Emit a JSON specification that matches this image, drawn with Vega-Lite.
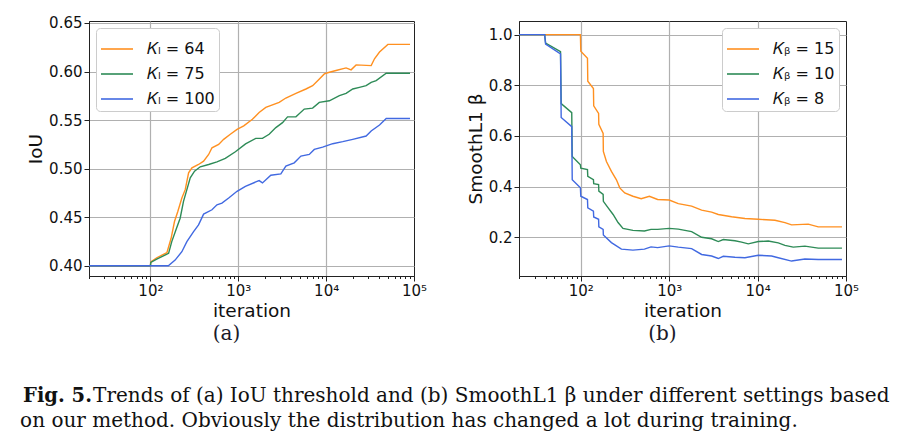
{
  "$schema": "https://vega.github.io/schema/vega-lite/v6.json",
  "padding": {"left": 20, "top": 15, "right": 5, "bottom": 5},
  "title": {
    "text": "on our method. Obviously the distribution has changed a lot during training.",
    "orient": "bottom", "anchor": "start", "frame": "bounds",
    "font": "DejaVu Serif", "fontSize": 20, "fontWeight": "normal", "color": "#111111",
    "offset": 5, "dx": -3
  },
  "vconcat": [
    {
      "title": {
        "text": "Trends of (a) IoU threshold and (b) SmoothL1 β under different settings based",
        "orient": "bottom", "anchor": "start", "frame": "bounds",
        "font": "DejaVu Serif", "fontSize": 20, "fontWeight": "normal", "color": "#111111",
        "offset": -20, "dx": 70
      },
      "vconcat": [
        {
          "title": {
            "text": "Fig. 5.",
            "orient": "bottom", "anchor": "start", "frame": "bounds",
            "font": "DejaVu Serif", "fontSize": 19.5, "fontWeight": "bold", "color": "#111111",
            "offset": 43, "dx": -3
          },
          "resolve": {"scale": {"color": "independent"}},
          "spacing": 37,
          "hconcat": [
            {
              "width": 325,
              "height": 255,
              "data": {"name": "a"},
              "title": {"text": "(a)", "orient": "bottom", "anchor": "middle", "frame": "bounds", "font": "DejaVu Serif", "fontSize": 20, "fontWeight": "normal", "color": "#1a1a2a", "offset": 4},
              "mark": {"type": "line", "strokeWidth": 1.4, "clip": true},
              "encoding": {
                "x": {
                  "field": "it", "type": "quantitative",
                  "scale": {"type": "log", "domain": [20, 100000], "nice": false},
                  "axis": {
                    "title": "iteration",
                    "values": [20, 30, 40, 50, 60, 70, 80, 90, 100, 200, 300, 400, 500, 600, 700, 800, 900, 1000, 2000, 3000, 4000, 5000, 6000, 7000, 8000, 9000, 10000, 20000, 30000, 40000, 50000, 60000, 70000, 80000, 90000, 100000],
                    "labelExpr": "datum.value == 100 ? '10²' : datum.value == 1000 ? '10³' : datum.value == 10000 ? '10⁴' : datum.value == 100000 ? '10⁵' : ''",
                    "labelOverlap": false,
                    "labelFlush": false,
                    "tickSize": {"condition": {"test": "indexof([100, 1000, 10000, 100000], datum.value) >= 0", "value": 5}, "value": 2.5},
                    "gridOpacity": {"condition": {"test": "indexof([100, 1000, 10000], datum.value) >= 0", "value": 1}, "value": 0}
                  }
                },
                "y": {
                  "field": "v", "type": "quantitative",
                  "scale": {"domain": [0.3895, 0.652], "nice": false, "zero": false},
                  "axis": {"title": "IoU", "values": [0.4, 0.45, 0.5, 0.55, 0.6, 0.65], "format": ".2f"}
                },
                "color": {
                  "field": "s", "type": "nominal",
                  "scale": {"domain": ["𝐾ₗ = 64", "𝐾ₗ = 75", "𝐾ₗ = 100"], "range": ["#ff9020", "#2e8b57", "#4169e1"]},
                  "legend": {"orient": "top-left", "offset": 7, "title": null, "rowPadding": -10}
                }
              }
            },
            {
              "width": 327,
              "height": 255,
              "data": {"name": "b"},
              "title": {"text": "(b)", "orient": "bottom", "anchor": "middle", "frame": "bounds", "font": "DejaVu Serif", "fontSize": 20, "fontWeight": "normal", "color": "#1a1a2a", "offset": 4},
              "mark": {"type": "line", "strokeWidth": 1.4, "clip": true},
              "encoding": {
                "x": {
                  "field": "it", "type": "quantitative",
                  "scale": {"type": "log", "domain": [20, 100000], "nice": false},
                  "axis": {
                    "title": "iteration",
                    "values": [20, 30, 40, 50, 60, 70, 80, 90, 100, 200, 300, 400, 500, 600, 700, 800, 900, 1000, 2000, 3000, 4000, 5000, 6000, 7000, 8000, 9000, 10000, 20000, 30000, 40000, 50000, 60000, 70000, 80000, 90000, 100000],
                    "labelExpr": "datum.value == 100 ? '10²' : datum.value == 1000 ? '10³' : datum.value == 10000 ? '10⁴' : datum.value == 100000 ? '10⁵' : ''",
                    "labelOverlap": false,
                    "labelFlush": false,
                    "tickSize": {"condition": {"test": "indexof([100, 1000, 10000, 100000], datum.value) >= 0", "value": 5}, "value": 2.5},
                    "gridOpacity": {"condition": {"test": "indexof([100, 1000, 10000], datum.value) >= 0", "value": 1}, "value": 0}
                  }
                },
                "y": {
                  "field": "v", "type": "quantitative",
                  "scale": {"domain": [0.047, 1.054], "nice": false, "zero": false},
                  "axis": {"title": "SmoothL1 β", "values": [0.2, 0.4, 0.6, 0.8, 1.0], "format": ".1f"}
                },
                "color": {
                  "field": "s", "type": "nominal",
                  "scale": {"domain": ["𝐾ᵦ = 15", "𝐾ᵦ = 10", "𝐾ᵦ = 8"], "range": ["#ff9020", "#2e8b57", "#4169e1"]},
                  "legend": {"orient": "top-right", "offset": 7, "title": null, "rowPadding": -6}
                }
              }
            }
          ]
        }
      ]
    }
  ],
  "datasets": {
    "a": [
      {"s": "𝐾ₗ = 64", "it": 20, "v": 0.400}, {"s": "𝐾ₗ = 64", "it": 100, "v": 0.400}, {"s": "𝐾ₗ = 64", "it": 101, "v": 0.4041},
      {"s": "𝐾ₗ = 64", "it": 118, "v": 0.4083}, {"s": "𝐾ₗ = 64", "it": 154, "v": 0.4135}, {"s": "𝐾ₗ = 64", "it": 172, "v": 0.4283},
      {"s": "𝐾ₗ = 64", "it": 188, "v": 0.4456}, {"s": "𝐾ₗ = 64", "it": 205, "v": 0.4559}, {"s": "𝐾ₗ = 64", "it": 228, "v": 0.4698},
      {"s": "𝐾ₗ = 64", "it": 249, "v": 0.4784}, {"s": "𝐾ₗ = 64", "it": 272, "v": 0.4957}, {"s": "𝐾ₗ = 64", "it": 297, "v": 0.5008},
      {"s": "𝐾ₗ = 64", "it": 353, "v": 0.5043}, {"s": "𝐾ₗ = 64", "it": 403, "v": 0.5077}, {"s": "𝐾ₗ = 64", "it": 460, "v": 0.5146},
      {"s": "𝐾ₗ = 64", "it": 502, "v": 0.5215}, {"s": "𝐾ₗ = 64", "it": 598, "v": 0.5250}, {"s": "𝐾ₗ = 64", "it": 682, "v": 0.5302},
      {"s": "𝐾ₗ = 64", "it": 812, "v": 0.5354}, {"s": "𝐾ₗ = 64", "it": 968, "v": 0.5405}, {"s": "𝐾ₗ = 64", "it": 1154, "v": 0.5440},
      {"s": "𝐾ₗ = 64", "it": 1449, "v": 0.5509}, {"s": "𝐾ₗ = 64", "it": 1727, "v": 0.5578}, {"s": "𝐾ₗ = 64", "it": 2057, "v": 0.5630},
      {"s": "𝐾ₗ = 64", "it": 2921, "v": 0.5682}, {"s": "𝐾ₗ = 64", "it": 3481, "v": 0.5727}, {"s": "𝐾ₗ = 64", "it": 4530, "v": 0.5775},
      {"s": "𝐾ₗ = 64", "it": 5890, "v": 0.5820}, {"s": "𝐾ₗ = 64", "it": 7019, "v": 0.5854}, {"s": "𝐾ₗ = 64", "it": 8006, "v": 0.5906},
      {"s": "𝐾ₗ = 64", "it": 9536, "v": 0.5975}, {"s": "𝐾ₗ = 64", "it": 10877, "v": 0.5992}, {"s": "𝐾ₗ = 64", "it": 12963, "v": 0.6010},
      {"s": "𝐾ₗ = 64", "it": 16861, "v": 0.6037}, {"s": "𝐾ₗ = 64", "it": 19231, "v": 0.6017}, {"s": "𝐾ₗ = 64", "it": 21935, "v": 0.6068},
      {"s": "𝐾ₗ = 64", "it": 32548, "v": 0.6061}, {"s": "𝐾ₗ = 64", "it": 35515, "v": 0.6131}, {"s": "𝐾ₗ = 64", "it": 40510, "v": 0.6200},
      {"s": "𝐾ₗ = 64", "it": 50430, "v": 0.6279}, {"s": "𝐾ₗ = 64", "it": 90000, "v": 0.6279},

      {"s": "𝐾ₗ = 75", "it": 20, "v": 0.400}, {"s": "𝐾ₗ = 75", "it": 100, "v": 0.400}, {"s": "𝐾ₗ = 75", "it": 101, "v": 0.4035},
      {"s": "𝐾ₗ = 75", "it": 118, "v": 0.4069}, {"s": "𝐾ₗ = 75", "it": 161, "v": 0.4128}, {"s": "𝐾ₗ = 75", "it": 175, "v": 0.4249},
      {"s": "𝐾ₗ = 75", "it": 195, "v": 0.4369}, {"s": "𝐾ₗ = 75", "it": 218, "v": 0.4490}, {"s": "𝐾ₗ = 75", "it": 238, "v": 0.4663},
      {"s": "𝐾ₗ = 75", "it": 260, "v": 0.4784}, {"s": "𝐾ₗ = 75", "it": 284, "v": 0.4905}, {"s": "𝐾ₗ = 75", "it": 318, "v": 0.4974},
      {"s": "𝐾ₗ = 75", "it": 369, "v": 0.5019}, {"s": "𝐾ₗ = 75", "it": 460, "v": 0.5043}, {"s": "𝐾ₗ = 75", "it": 572, "v": 0.5070},
      {"s": "𝐾ₗ = 75", "it": 712, "v": 0.5105}, {"s": "𝐾ₗ = 75", "it": 927, "v": 0.5174}, {"s": "𝐾ₗ = 75", "it": 1210, "v": 0.5255},
      {"s": "𝐾ₗ = 75", "it": 1582, "v": 0.5312}, {"s": "𝐾ₗ = 75", "it": 1885, "v": 0.5312}, {"s": "𝐾ₗ = 75", "it": 2246, "v": 0.5354},
      {"s": "𝐾ₗ = 75", "it": 2676, "v": 0.5423}, {"s": "𝐾ₗ = 75", "it": 3189, "v": 0.5474}, {"s": "𝐾ₗ = 75", "it": 3637, "v": 0.5533},
      {"s": "𝐾ₗ = 75", "it": 4530, "v": 0.5533}, {"s": "𝐾ₗ = 75", "it": 5637, "v": 0.5613}, {"s": "𝐾ₗ = 75", "it": 7019, "v": 0.5623},
      {"s": "𝐾ₗ = 75", "it": 8361, "v": 0.5682}, {"s": "𝐾ₗ = 75", "it": 10877, "v": 0.5699}, {"s": "𝐾ₗ = 75", "it": 14150, "v": 0.5751},
      {"s": "𝐾ₗ = 75", "it": 16861, "v": 0.5775}, {"s": "𝐾ₗ = 75", "it": 20091, "v": 0.5820}, {"s": "𝐾ₗ = 75", "it": 23933, "v": 0.5837},
      {"s": "𝐾ₗ = 75", "it": 28523, "v": 0.5854}, {"s": "𝐾ₗ = 75", "it": 32548, "v": 0.5889}, {"s": "𝐾ₗ = 75", "it": 37112, "v": 0.5906},
      {"s": "𝐾ₗ = 75", "it": 48290, "v": 0.5982}, {"s": "𝐾ₗ = 75", "it": 90000, "v": 0.5982},

      {"s": "𝐾ₗ = 100", "it": 20, "v": 0.400}, {"s": "𝐾ₗ = 100", "it": 160, "v": 0.400}, {"s": "𝐾ₗ = 100", "it": 191, "v": 0.4059},
      {"s": "𝐾ₗ = 100", "it": 228, "v": 0.4145}, {"s": "𝐾ₗ = 100", "it": 260, "v": 0.4249}, {"s": "𝐾ₗ = 100", "it": 310, "v": 0.4352},
      {"s": "𝐾ₗ = 100", "it": 353, "v": 0.4421}, {"s": "𝐾ₗ = 100", "it": 403, "v": 0.4532}, {"s": "𝐾ₗ = 100", "it": 502, "v": 0.4577},
      {"s": "𝐾ₗ = 100", "it": 572, "v": 0.4628}, {"s": "𝐾ₗ = 100", "it": 652, "v": 0.4646}, {"s": "𝐾ₗ = 100", "it": 778, "v": 0.4698},
      {"s": "𝐾ₗ = 100", "it": 968, "v": 0.4767}, {"s": "𝐾ₗ = 100", "it": 1205, "v": 0.4818}, {"s": "𝐾ₗ = 100", "it": 1582, "v": 0.4863},
      {"s": "𝐾ₗ = 100", "it": 1727, "v": 0.4877}, {"s": "𝐾ₗ = 100", "it": 1885, "v": 0.4853}, {"s": "𝐾ₗ = 100", "it": 2346, "v": 0.4932},
      {"s": "𝐾ₗ = 100", "it": 3052, "v": 0.4946}, {"s": "𝐾ₗ = 100", "it": 3481, "v": 0.5026}, {"s": "𝐾ₗ = 100", "it": 4334, "v": 0.5060},
      {"s": "𝐾ₗ = 100", "it": 5165, "v": 0.5129}, {"s": "𝐾ₗ = 100", "it": 6429, "v": 0.5146}, {"s": "𝐾ₗ = 100", "it": 7333, "v": 0.5198},
      {"s": "𝐾ₗ = 100", "it": 9130, "v": 0.5222}, {"s": "𝐾ₗ = 100", "it": 11874, "v": 0.5257}, {"s": "𝐾ₗ = 100", "it": 15448, "v": 0.5278},
      {"s": "𝐾ₗ = 100", "it": 20091, "v": 0.5302}, {"s": "𝐾ₗ = 100", "it": 28523, "v": 0.5336}, {"s": "𝐾ₗ = 100", "it": 32548, "v": 0.5388},
      {"s": "𝐾ₗ = 100", "it": 40510, "v": 0.5450}, {"s": "𝐾ₗ = 100", "it": 48290, "v": 0.5516}, {"s": "𝐾ₗ = 100", "it": 90000, "v": 0.5516}
    ],
    "b": [
      {"s": "𝐾ᵦ = 15", "it": 20, "v": 1.0}, {"s": "𝐾ᵦ = 15", "it": 99, "v": 1.0}, {"s": "𝐾ᵦ = 15", "it": 100, "v": 0.935},
      {"s": "𝐾ᵦ = 15", "it": 119, "v": 0.907}, {"s": "𝐾ᵦ = 15", "it": 120, "v": 0.816}, {"s": "𝐾ᵦ = 15", "it": 139, "v": 0.787},
      {"s": "𝐾ᵦ = 15", "it": 140, "v": 0.719}, {"s": "𝐾ᵦ = 15", "it": 159, "v": 0.689}, {"s": "𝐾ᵦ = 15", "it": 160, "v": 0.646},
      {"s": "𝐾ᵦ = 15", "it": 179, "v": 0.610}, {"s": "𝐾ᵦ = 15", "it": 180, "v": 0.539}, {"s": "𝐾ᵦ = 15", "it": 195, "v": 0.499},
      {"s": "𝐾ᵦ = 15", "it": 222, "v": 0.460}, {"s": "𝐾ᵦ = 15", "it": 253, "v": 0.427}, {"s": "𝐾ᵦ = 15", "it": 276, "v": 0.395},
      {"s": "𝐾ᵦ = 15", "it": 314, "v": 0.375}, {"s": "𝐾ᵦ = 15", "it": 389, "v": 0.362}, {"s": "𝐾ᵦ = 15", "it": 482, "v": 0.352},
      {"s": "𝐾ᵦ = 15", "it": 597, "v": 0.362}, {"s": "𝐾ᵦ = 15", "it": 740, "v": 0.349}, {"s": "𝐾ᵦ = 15", "it": 1000, "v": 0.347},
      {"s": "𝐾ᵦ = 15", "it": 1267, "v": 0.333}, {"s": "𝐾ᵦ = 15", "it": 1794, "v": 0.323}, {"s": "𝐾ᵦ = 15", "it": 2327, "v": 0.307},
      {"s": "𝐾ᵦ = 15", "it": 3019, "v": 0.299}, {"s": "𝐾ᵦ = 15", "it": 3592, "v": 0.290}, {"s": "𝐾ᵦ = 15", "it": 5082, "v": 0.281},
      {"s": "𝐾ᵦ = 15", "it": 7190, "v": 0.274}, {"s": "𝐾ᵦ = 15", "it": 10174, "v": 0.271}, {"s": "𝐾ᵦ = 15", "it": 15705, "v": 0.267},
      {"s": "𝐾ᵦ = 15", "it": 20378, "v": 0.258}, {"s": "𝐾ᵦ = 15", "it": 24237, "v": 0.249}, {"s": "𝐾ᵦ = 15", "it": 37410, "v": 0.252},
      {"s": "𝐾ᵦ = 15", "it": 48530, "v": 0.241}, {"s": "𝐾ᵦ = 15", "it": 90000, "v": 0.241},

      {"s": "𝐾ᵦ = 10", "it": 20, "v": 1.0}, {"s": "𝐾ᵦ = 10", "it": 39, "v": 1.0}, {"s": "𝐾ᵦ = 10", "it": 40, "v": 0.967},
      {"s": "𝐾ᵦ = 10", "it": 59, "v": 0.933}, {"s": "𝐾ᵦ = 10", "it": 60, "v": 0.728}, {"s": "𝐾ᵦ = 10", "it": 79, "v": 0.692},
      {"s": "𝐾ᵦ = 10", "it": 80, "v": 0.519}, {"s": "𝐾ᵦ = 10", "it": 99, "v": 0.486}, {"s": "𝐾ᵦ = 10", "it": 100, "v": 0.473},
      {"s": "𝐾ᵦ = 10", "it": 119, "v": 0.467}, {"s": "𝐾ᵦ = 10", "it": 120, "v": 0.441}, {"s": "𝐾ᵦ = 10", "it": 139, "v": 0.427},
      {"s": "𝐾ᵦ = 10", "it": 140, "v": 0.412}, {"s": "𝐾ᵦ = 10", "it": 159, "v": 0.408}, {"s": "𝐾ᵦ = 10", "it": 160, "v": 0.382},
      {"s": "𝐾ᵦ = 10", "it": 179, "v": 0.369}, {"s": "𝐾ᵦ = 10", "it": 180, "v": 0.342}, {"s": "𝐾ᵦ = 10", "it": 204, "v": 0.316},
      {"s": "𝐾ᵦ = 10", "it": 232, "v": 0.290}, {"s": "𝐾ᵦ = 10", "it": 264, "v": 0.258}, {"s": "𝐾ᵦ = 10", "it": 300, "v": 0.235},
      {"s": "𝐾ᵦ = 10", "it": 389, "v": 0.227}, {"s": "𝐾ᵦ = 10", "it": 525, "v": 0.225}, {"s": "𝐾ᵦ = 10", "it": 623, "v": 0.231},
      {"s": "𝐾ᵦ = 10", "it": 740, "v": 0.231}, {"s": "𝐾ᵦ = 10", "it": 1000, "v": 0.235}, {"s": "𝐾ᵦ = 10", "it": 1267, "v": 0.232},
      {"s": "𝐾ᵦ = 10", "it": 1794, "v": 0.222}, {"s": "𝐾ᵦ = 10", "it": 2327, "v": 0.200}, {"s": "𝐾ᵦ = 10", "it": 3019, "v": 0.194},
      {"s": "𝐾ᵦ = 10", "it": 3592, "v": 0.183}, {"s": "𝐾ᵦ = 10", "it": 4091, "v": 0.191}, {"s": "𝐾ᵦ = 10", "it": 5541, "v": 0.186},
      {"s": "𝐾ᵦ = 10", "it": 6593, "v": 0.181}, {"s": "𝐾ᵦ = 10", "it": 7845, "v": 0.174}, {"s": "𝐾ᵦ = 10", "it": 10174, "v": 0.183},
      {"s": "𝐾ᵦ = 10", "it": 13201, "v": 0.185}, {"s": "𝐾ᵦ = 10", "it": 17126, "v": 0.178}, {"s": "𝐾ᵦ = 10", "it": 20378, "v": 0.168},
      {"s": "𝐾ᵦ = 10", "it": 25314, "v": 0.161}, {"s": "𝐾ᵦ = 10", "it": 34290, "v": 0.165}, {"s": "𝐾ᵦ = 10", "it": 48530, "v": 0.157},
      {"s": "𝐾ᵦ = 10", "it": 90000, "v": 0.157},

      {"s": "𝐾ᵦ = 8", "it": 20, "v": 1.0}, {"s": "𝐾ᵦ = 8", "it": 39, "v": 1.0}, {"s": "𝐾ᵦ = 8", "it": 40, "v": 0.963},
      {"s": "𝐾ᵦ = 8", "it": 59, "v": 0.924}, {"s": "𝐾ᵦ = 8", "it": 60, "v": 0.673}, {"s": "𝐾ᵦ = 8", "it": 79, "v": 0.637},
      {"s": "𝐾ᵦ = 8", "it": 80, "v": 0.427}, {"s": "𝐾ᵦ = 8", "it": 99, "v": 0.395}, {"s": "𝐾ᵦ = 8", "it": 100, "v": 0.362},
      {"s": "𝐾ᵦ = 8", "it": 119, "v": 0.349}, {"s": "𝐾ᵦ = 8", "it": 120, "v": 0.316}, {"s": "𝐾ᵦ = 8", "it": 139, "v": 0.303},
      {"s": "𝐾ᵦ = 8", "it": 140, "v": 0.280}, {"s": "𝐾ᵦ = 8", "it": 159, "v": 0.271}, {"s": "𝐾ᵦ = 8", "it": 160, "v": 0.241},
      {"s": "𝐾ᵦ = 8", "it": 179, "v": 0.231}, {"s": "𝐾ᵦ = 8", "it": 180, "v": 0.209}, {"s": "𝐾ᵦ = 8", "it": 222, "v": 0.179},
      {"s": "𝐾ᵦ = 8", "it": 288, "v": 0.153}, {"s": "𝐾ᵦ = 8", "it": 389, "v": 0.149}, {"s": "𝐾ᵦ = 8", "it": 525, "v": 0.153},
      {"s": "𝐾ᵦ = 8", "it": 623, "v": 0.162}, {"s": "𝐾ᵦ = 8", "it": 740, "v": 0.159}, {"s": "𝐾ᵦ = 8", "it": 1000, "v": 0.166},
      {"s": "𝐾ᵦ = 8", "it": 1267, "v": 0.161}, {"s": "𝐾ᵦ = 8", "it": 1794, "v": 0.155}, {"s": "𝐾ᵦ = 8", "it": 2327, "v": 0.132},
      {"s": "𝐾ᵦ = 8", "it": 3019, "v": 0.126}, {"s": "𝐾ᵦ = 8", "it": 3592, "v": 0.116}, {"s": "𝐾ᵦ = 8", "it": 4091, "v": 0.125},
      {"s": "𝐾ᵦ = 8", "it": 5541, "v": 0.121}, {"s": "𝐾ᵦ = 8", "it": 7190, "v": 0.119}, {"s": "𝐾ᵦ = 8", "it": 10174, "v": 0.129},
      {"s": "𝐾ᵦ = 8", "it": 14398, "v": 0.126}, {"s": "𝐾ᵦ = 8", "it": 17126, "v": 0.119}, {"s": "𝐾ᵦ = 8", "it": 24237, "v": 0.106},
      {"s": "𝐾ᵦ = 8", "it": 34290, "v": 0.114}, {"s": "𝐾ᵦ = 8", "it": 48530, "v": 0.112}, {"s": "𝐾ᵦ = 8", "it": 90000, "v": 0.112}
    ]
  },
  "config": {
    "background": "white",
    "view": {"stroke": "#222222", "strokeWidth": 1},
    "axis": {
      "labelFont": "DejaVu Sans", "labelFontSize": 15, "labelColor": "#111111",
      "titleFont": "DejaVu Sans", "titleFontSize": 18.5, "titleFontWeight": "normal", "titleColor": "#111111",
      "domainColor": "#222222", "tickColor": "#222222", "tickSize": 5, "labelPadding": 2, "titlePadding": 3,
      "gridColor": "#b0b0b0", "gridWidth": 1.2
    },
    "legend": {
      "symbolType": "M-1,0H1", "symbolSize": 1024, "symbolStrokeWidth": 1.6,
      "labelFont": "DejaVu Sans", "labelFontSize": 16, "labelColor": "#111111", "labelOffset": 13,
      "fillColor": "white", "strokeColor": "#cccccc", "cornerRadius": 4, "padding": 4
    }
  }
}
